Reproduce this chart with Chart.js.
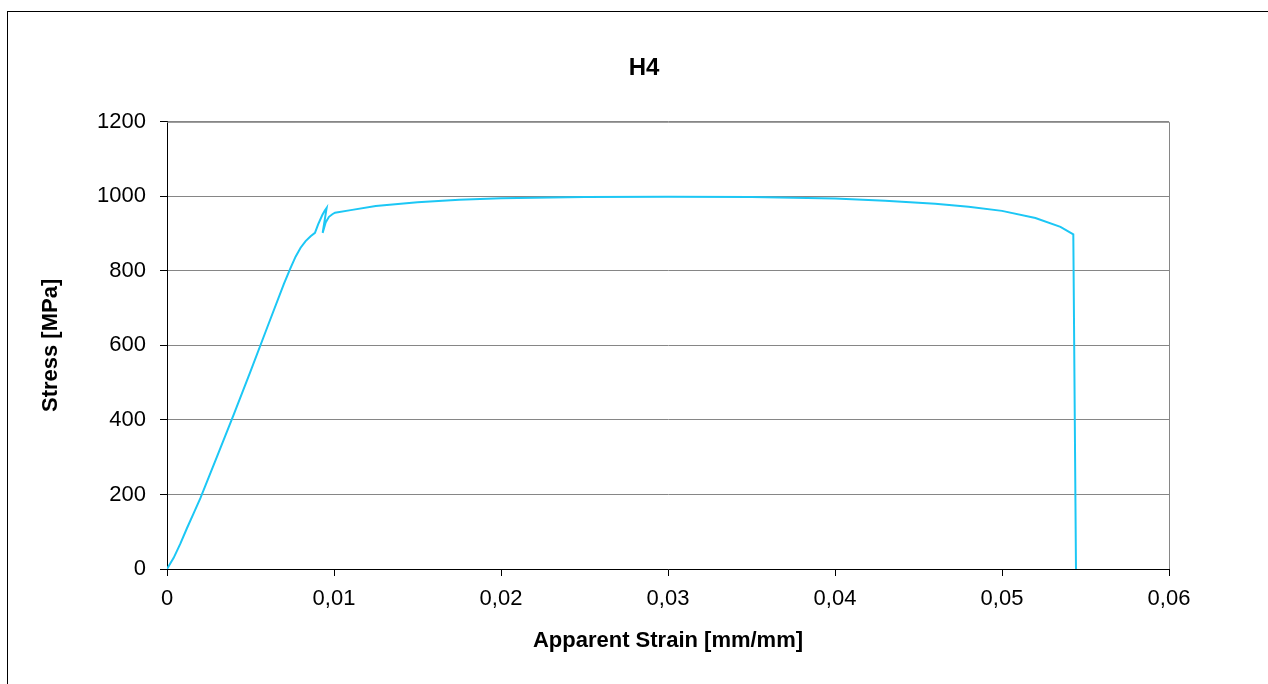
<!DOCTYPE html>
<html>
<head>
<meta charset="utf-8">
<script src="https://cdn.jsdelivr.net/npm/chart.js@4/dist/chart.umd.min.js"></script>
<style>
  html, body { margin: 0; padding: 0; background: #fff; overflow: hidden; }
  #frame { position: absolute; left: 7px; top: 11px; width: 1300px; height: 720px; border: 1px solid #000; pointer-events: none; }
  canvas { position: absolute; left: 0; top: 0; }
</style>
</head>
<body>
<canvas id="h4Chart" width="1268" height="684"></canvas>
<div id="frame"></div>
<script>
var strain = [0, 0.0004, 0.0008, 0.0012, 0.0016, 0.002, 0.003, 0.004, 0.005, 0.006, 0.007, 0.0074, 0.0077, 0.008, 0.0083, 0.0086, 0.00886, 0.00905, 0.0093, 0.00945, 0.00956, 0.00932, 0.0095, 0.0097, 0.0099, 0.01006, 0.011, 0.0125, 0.015, 0.0175, 0.02, 0.025, 0.03, 0.035, 0.04, 0.043, 0.046, 0.048, 0.05, 0.052, 0.0535, 0.05427, 0.05443];
var stress = [0, 30, 68, 110, 150, 190, 302, 415, 530, 648, 765, 808, 838, 862, 880, 893, 902, 925, 950, 962, 969, 902, 930, 945, 952, 956, 963, 974, 984, 991, 995, 998, 999, 998, 994, 988, 980, 972, 961, 942, 918, 898, 0];
var xTickLabels = ['0', '0,01', '0,02', '0,03', '0,04', '0,05', '0,06'];
var yTickLabels = ['0', '200', '400', '600', '800', '1000', '1200'];

var points = strain.map(function (s, i) { return { x: s, y: stress[i] }; });

var plotBox = {
  id: 'plotBox',
  afterDraw: function (chart) {
    var a = chart.chartArea, ctx = chart.ctx;
    ctx.save();
    ctx.strokeStyle = '#868686';
    ctx.lineWidth = 1;
    ctx.beginPath();
    ctx.moveTo(a.left, a.top + 0.5);
    ctx.lineTo(a.right + 0.5, a.top + 0.5);
    ctx.lineTo(a.right + 0.5, a.bottom);
    ctx.stroke();
    ctx.restore();
  }
};

new Chart(document.getElementById('h4Chart'), {
  type: 'scatter',
  data: {
    datasets: [{
      label: 'H4',
      data: points,
      showLine: true,
      borderColor: '#1cc7f5',
      borderWidth: 2,
      pointRadius: 0,
      tension: 0
    }]
  },
  options: {
    responsive: false,
    animation: false,
    layout: { padding: { top: 0, left: 38, right: 18, bottom: 30 } },
    plugins: {
      legend: { display: false },
      tooltip: { enabled: false },
      title: {
        display: true,
        text: 'H4',
        color: '#000',
        font: { family: 'Liberation Sans', size: 24, weight: 'bold', lineHeight: 1.2 },
        padding: { top: 54, bottom: 39 }
      }
    },
    scales: {
      x: {
        type: 'linear',
        min: 0, max: 0.06,
        afterFit: function (s) { s.height = 85; },
        ticks: {
          stepSize: 0.01,
          color: '#000',
          padding: 10,
          font: { family: 'Liberation Sans', size: 22 },
          callback: function (v, i) { return xTickLabels[i]; }
        },
        grid: { drawOnChartArea: false, drawTicks: true, tickLength: 7, tickColor: '#000' },
        border: { color: '#000', width: 1 },
        title: {
          display: true,
          text: 'Apparent Strain [mm/mm]',
          color: '#000',
          font: { family: 'Liberation Sans', size: 22, weight: 'bold', lineHeight: 1.2 },
          padding: { top: 0, bottom: 0 }
        }
      },
      y: {
        min: 0, max: 1200,
        afterFit: function (s) { s.width = 129; },
        ticks: {
          stepSize: 200,
          color: '#000',
          padding: 14,
          font: { family: 'Liberation Sans', size: 22 },
          callback: function (v, i) { return yTickLabels[i]; }
        },
        grid: { color: '#868686', tickLength: 7, tickColor: '#000', lineWidth: 1 },
        border: { color: '#000', width: 1 },
        title: {
          display: true,
          text: 'Stress [MPa]',
          color: '#000',
          font: { family: 'Liberation Sans', size: 22, weight: 'bold', lineHeight: 1.2 },
          padding: { top: 0, bottom: 0 }
        }
      },
      yRight: {
        position: 'right',
        min: 0, max: 1200,
        afterFit: function (s) { s.width = 81; },
        ticks: { display: false },
        grid: { display: false, drawTicks: false },
        border: { display: false }
      }
    }
  },
  plugins: [plotBox]
});
</script>
</body>
</html>
